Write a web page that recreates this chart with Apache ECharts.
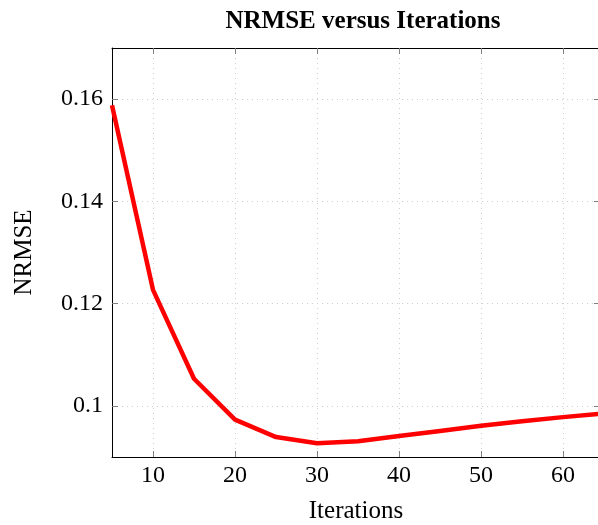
<!DOCTYPE html>
<html><head><meta charset="utf-8">
<script src="https://cdn.jsdelivr.net/npm/echarts@6/dist/echarts.min.js"></script>
<style>html,body{margin:0;padding:0;background:#fff}#c{width:598px;height:525px}</style>
</head><body><div id="c"></div>
<script>
const iterations = [5, 10, 15, 20, 25, 30, 35, 40, 45, 50, 55, 60, 65];
const nrmse = [0.1588, 0.1227, 0.1053, 0.0973, 0.0939, 0.0927, 0.0931, 0.0941, 0.0951, 0.0961, 0.0970, 0.0978, 0.0985];
const xTicks = [10, 20, 30, 40, 50, 60];
const yTicks = [0.1, 0.12, 0.14, 0.16];

const chart = echarts.init(document.getElementById('c'), null, {renderer: 'canvas'});
const serif = 'Liberation Serif';
const gridLine = {show: true, lineStyle: {color: '#cfcfcf', type: [1, 4], width: 1}};
const tickStyle = {color: '#808080', width: 1};
chart.setOption({
  animation: false,
  title: {text: 'NRMSE versus Iterations', left: 358, top: 4, textAlign: 'center',
    textStyle: {fontFamily: serif, fontWeight: 'bold', fontSize: 25, color: '#000'}},
  grid: {left: 112, right: -2, top: 48, bottom: 68, containLabel: false, outerBoundsMode: 'none'},
  xAxis: [{
    type: 'value', min: 5, max: 64.5, position: 'bottom',
    name: 'Iterations', nameLocation: 'middle', nameGap: 42,
    nameTextStyle: {fontFamily: serif, fontSize: 25, color: '#000'},
    axisLine: {show: true, onZero: false, lineStyle: {color: '#000', width: 1}},
    axisTick: {show: true, inside: true, length: 6, lineStyle: tickStyle, customValues: xTicks},
    axisLabel: {show: true, fontFamily: serif, fontSize: 24, color: '#000', margin: 7, customValues: xTicks},
    splitLine: gridLine
  }, {
    type: 'value', min: 5, max: 64.5, position: 'top',
    axisLine: {show: true, onZero: false, lineStyle: {color: '#000', width: 1}},
    axisTick: {show: true, inside: true, length: 6, lineStyle: tickStyle, customValues: xTicks},
    axisLabel: {show: false},
    splitLine: {show: false}
  }],
  yAxis: [{
    type: 'value', min: 0.09, max: 0.17, position: 'left',
    name: 'NRMSE', nameLocation: 'middle', nameGap: 75, nameRotate: 90,
    nameTextStyle: {fontFamily: serif, fontSize: 25, color: '#000'},
    axisLine: {show: true, onZero: false, lineStyle: {color: '#000', width: 1}},
    axisTick: {show: true, inside: true, length: 6, lineStyle: tickStyle, customValues: yTicks},
    axisLabel: {show: true, fontFamily: serif, fontSize: 24, color: '#000', margin: 9, customValues: yTicks},
    splitLine: gridLine
  }, {
    type: 'value', min: 0.09, max: 0.17, position: 'right',
    axisLine: {show: true, onZero: false, lineStyle: {color: '#000', width: 1}},
    axisTick: {show: true, inside: true, length: 6, lineStyle: tickStyle, customValues: yTicks},
    axisLabel: {show: false},
    splitLine: {show: false}
  }],
  series: [{
    type: 'line', xAxisIndex: 0, yAxisIndex: 0,
    data: iterations.map((x, i) => [x, nrmse[i]]),
    showSymbol: false, symbol: 'none', clip: true,
    lineStyle: {color: '#ff0000', width: 4.5, join: 'round'}
  }]
});
</script></body></html>
